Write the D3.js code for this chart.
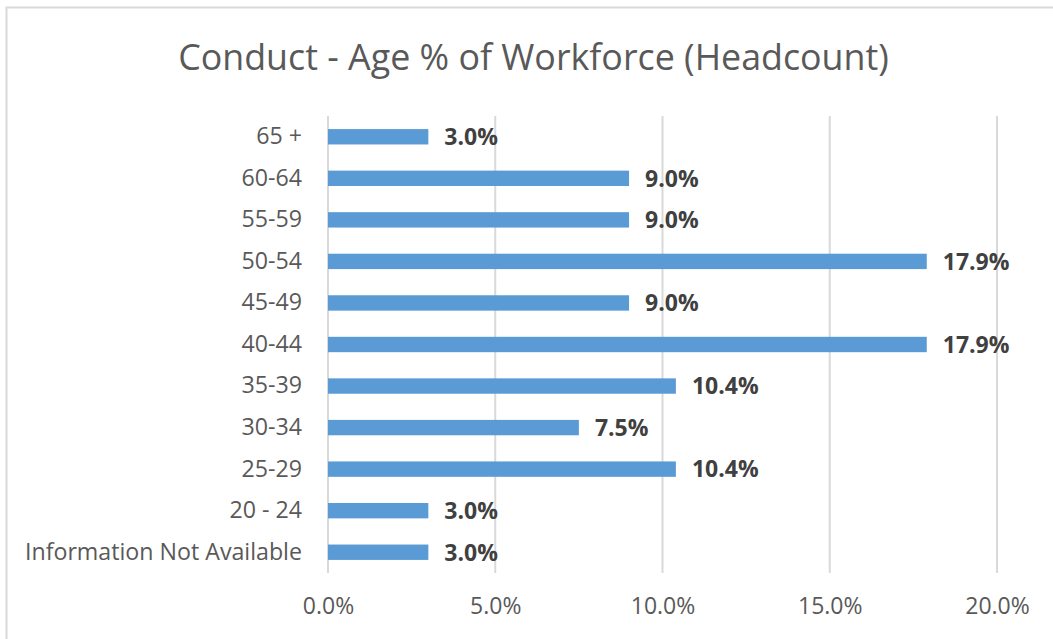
<!DOCTYPE html>
<html>
<head>
<meta charset="utf-8">
<script src="https://cdn.jsdelivr.net/npm/d3@7"></script>
<style>
  body { margin: 0; background: #fff; }
  text { font-family: "Open Sans", "Noto Sans", sans-serif; }
</style>
</head>
<body>
<div class="chart"></div>
<script>
var categories = ['65 +', '60-64', '55-59', '50-54', '45-49', '40-44', '35-39', '30-34', '25-29', '20 - 24', 'Information Not Available'];
var values = [3.0, 9.0, 9.0, 17.9, 9.0, 17.9, 10.4, 7.5, 10.4, 3.0, 3.0];
var ticks = [0, 5, 10, 15, 20];
var title = 'Conduct - Age % of Workforce (Headcount)';

var W = 1053, H = 639;
var margin = { top: 116, right: 56, bottom: 66, left: 328 };
var width = W - margin.left - margin.right;
var height = H - margin.top - margin.bottom;

var svg = d3.select('.chart')
    .append('svg')
    .attr('width', W)
    .attr('height', H);

// outer frame (cut off on right and bottom like the screenshot)
svg.append('rect')
    .attr('x', 6.5).attr('y', 7.5)
    .attr('width', 1100).attr('height', 700)
    .style('fill', 'none')
    .style('stroke', '#d9d9d9')
    .style('stroke-width', 2);

svg.append('text')
    .attr('x', 533.5)
    .attr('y', 70)
    .attr('text-anchor', 'middle')
    .style('font-size', '35.8px')
    .style('fill', '#595959')
    .text(title);

var g = svg.append('g')
    .attr('transform', `translate(${margin.left}, ${margin.top})`);

var xScale = d3.scaleLinear()
    .domain([0, 20])
    .range([0, 669]);

var yScale = d3.scaleBand()
    .domain(categories)
    .range([0, height])
    .paddingInner(0.63)
    .paddingOuter(0.315);

// gridlines
g.selectAll('.grid')
    .data(ticks)
    .enter()
    .append('line')
    .attr('x1', d => xScale(d))
    .attr('x2', d => xScale(d))
    .attr('y1', 0)
    .attr('y2', height)
    .style('stroke', '#d9d9d9')
    .style('stroke-width', 2);

var xAxis = d3.axisBottom(xScale)
    .tickValues(ticks)
    .tickSize(0)
    .tickPadding(25)
    .tickFormat(d => d.toFixed(1) + '%');

var xg = g.append('g')
    .attr('transform', 'translate(0,' + height + ')')
    .call(xAxis);
xg.select('.domain').remove();
xg.selectAll('text')
    .style('font-size', '23px')
    .style('fill', '#595959')
    .style('font-family', '"Open Sans", sans-serif');

var yAxis = d3.axisLeft(yScale)
    .tickSize(0)
    .tickPadding(26);

var yg = g.append('g').call(yAxis);
yg.select('.domain').remove();
yg.selectAll('text')
    .style('font-size', '23.2px')
    .style('fill', '#595959')
    .style('font-family', '"Open Sans", sans-serif');

g.selectAll('.bar')
    .data(values)
    .enter()
    .append('rect')
    .attr('x', xScale(0))
    .attr('y', (d, i) => yScale(categories[i]))
    .attr('width', d => xScale(d) - xScale(0))
    .attr('height', yScale.bandwidth())
    .style('fill', '#5b9bd5');

g.selectAll('.label')
    .data(values)
    .enter()
    .append('text')
    .attr('x', d => xScale(d) + 16)
    .attr('y', (d, i) => yScale(categories[i]) + yScale.bandwidth() / 2)
    .attr('dy', '0.36em')
    .style('font-size', '23px')
    .style('font-weight', 'bold')
    .style('fill', '#404040')
    .text(d => d.toFixed(1) + '%');
</script>
</body>
</html>
